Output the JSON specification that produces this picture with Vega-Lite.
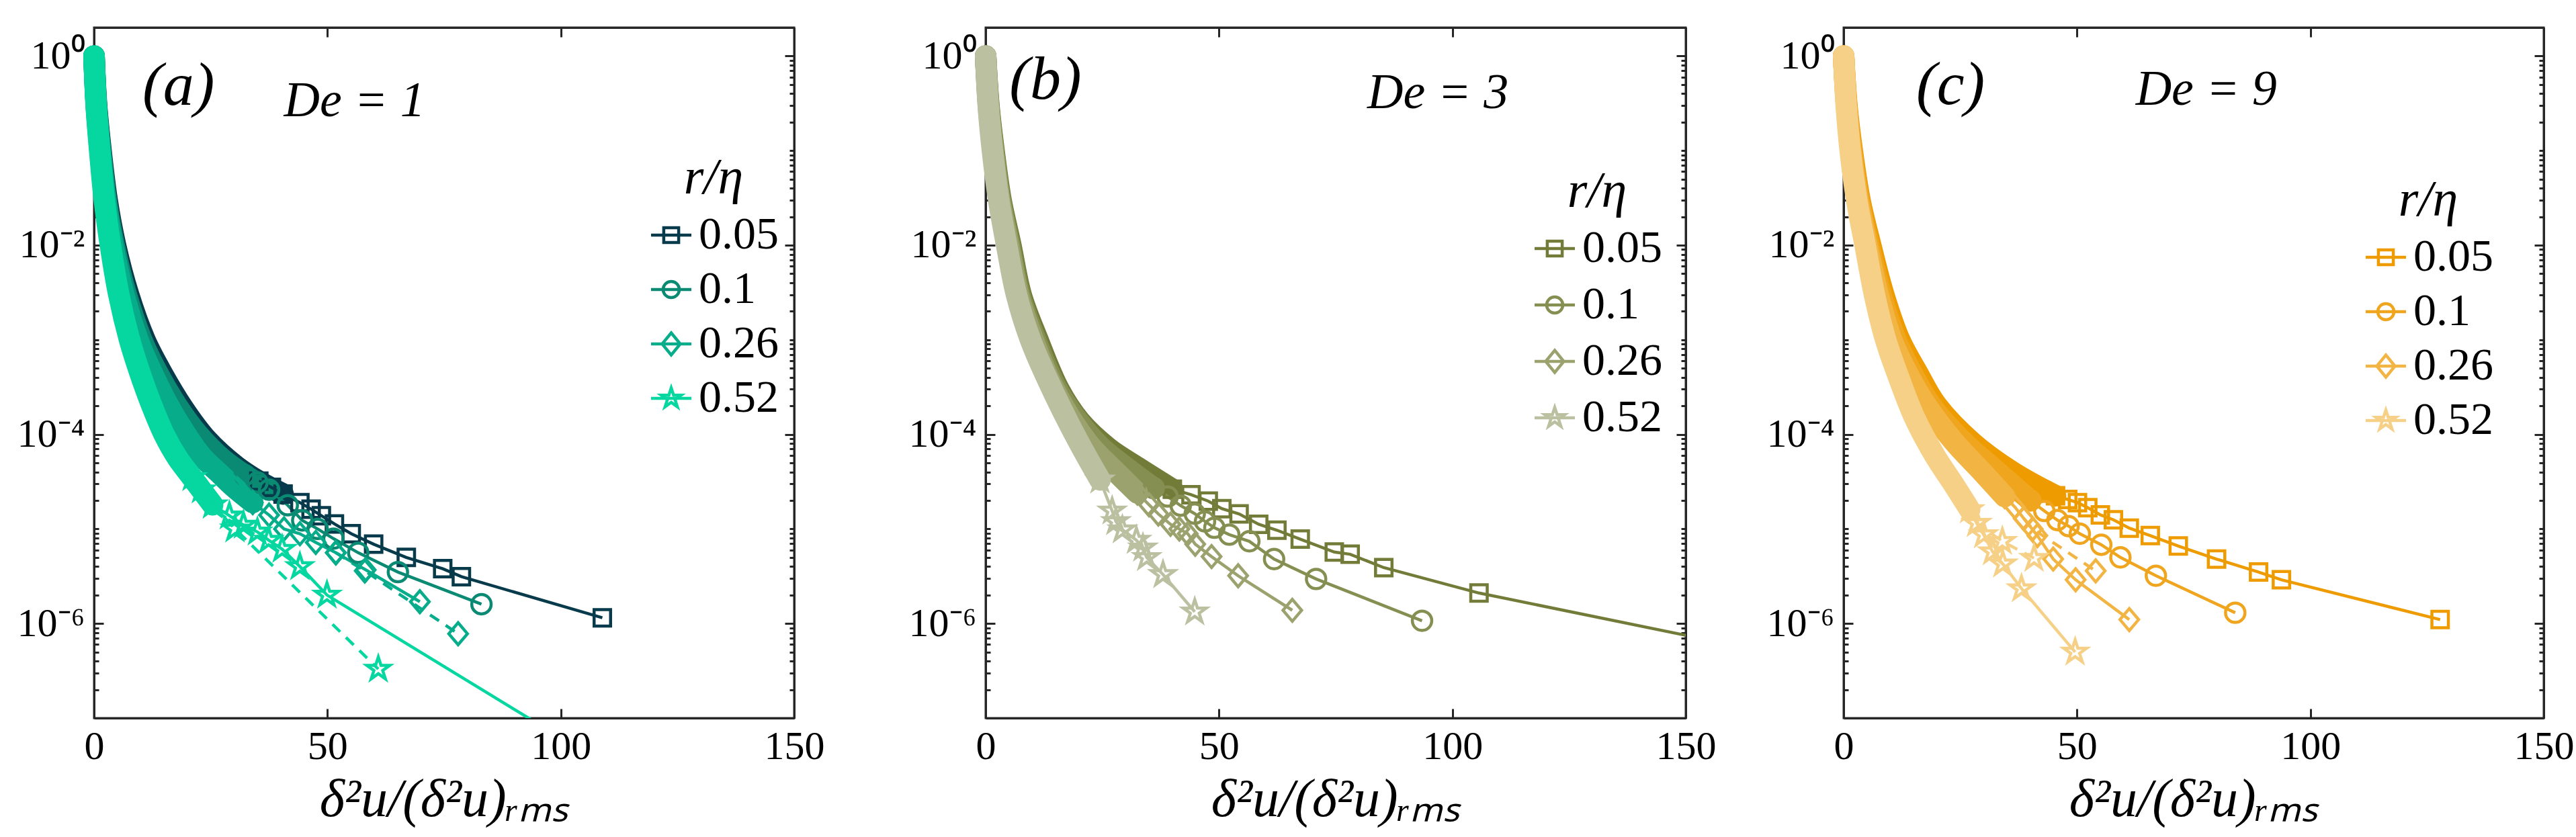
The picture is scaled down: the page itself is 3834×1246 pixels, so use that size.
{
  "$schema": "https://vega.github.io/schema/vega-lite/v6.json",
  "background": "white",
  "padding": {"left": 23, "top": 38, "right": 5, "bottom": 0},
  "bounds": "flush",
  "spacing": 285,
  "datasets": {
    "a": [
      {"r":"0.05","s":"s","k":"c","x":0,"y":1},{"r":"0.05","s":"s","k":"c","x":0.55,"y":0.3},{"r":"0.05","s":"s","k":"c","x":1.5,"y":0.1},{"r":"0.05","s":"s","k":"c","x":2.8,"y":0.03},{"r":"0.05","s":"s","k":"c","x":4.6,"y":0.01},{"r":"0.05","s":"s","k":"c","x":7.4,"y":3e-3},{"r":"0.05","s":"s","k":"c","x":10.9,"y":1e-3},{"r":"0.05","s":"s","k":"c","x":14,"y":5e-4},{"r":"0.05","s":"s","k":"c","x":19.1,"y":1.9e-4},{"r":"0.05","s":"s","k":"c","x":24.3,"y":8.7e-5},{"r":"0.05","s":"s","k":"c","x":30.5,"y":4.6e-5},{"r":"0.05","s":"s","k":"c","x":35.3,"y":3.2e-5},{"r":"0.05","s":"s","k":"c","x":40.5,"y":2.34e-5},
      {"r":"0.05","s":"s","k":"t","x":35.3,"y":3.2e-5},{"r":"0.05","s":"s","k":"t","x":38,"y":2.75e-5},{"r":"0.05","s":"s","k":"t","x":40.5,"y":2.34e-5},{"r":"0.05","s":"s","k":"t","x":44.1,"y":1.9e-5},{"r":"0.05","s":"s","k":"t","x":46.5,"y":1.62e-5},{"r":"0.05","s":"s","k":"t","x":48.7,"y":1.38e-5},{"r":"0.05","s":"s","k":"t","x":51.5,"y":1.13e-5},{"r":"0.05","s":"s","k":"t","x":55.1,"y":8.9e-6},{"r":"0.05","s":"s","k":"t","x":59.9,"y":6.9e-6},{"r":"0.05","s":"s","k":"t","x":66.9,"y":5e-6},{"r":"0.05","s":"s","k":"t","x":74.7,"y":3.8e-6},{"r":"0.05","s":"s","k":"t","x":78.7,"y":3.13e-6},{"r":"0.05","s":"s","k":"t","x":108.9,"y":1.15e-6},
      {"r":"0.1","s":"s","k":"c","x":0,"y":1},{"r":"0.1","s":"s","k":"c","x":0.5,"y":0.3},{"r":"0.1","s":"s","k":"c","x":1.4,"y":0.1},{"r":"0.1","s":"s","k":"c","x":2.6,"y":0.03},{"r":"0.1","s":"s","k":"c","x":4.3,"y":0.01},{"r":"0.1","s":"s","k":"c","x":6.9,"y":3e-3},{"r":"0.1","s":"s","k":"c","x":10.2,"y":1e-3},{"r":"0.1","s":"s","k":"c","x":13.1,"y":5e-4},{"r":"0.1","s":"s","k":"c","x":17.8,"y":2e-4},{"r":"0.1","s":"s","k":"c","x":22.3,"y":1e-4},{"r":"0.1","s":"s","k":"c","x":27.5,"y":5.5e-5},{"r":"0.1","s":"s","k":"c","x":32.3,"y":3.7e-5},{"r":"0.1","s":"s","k":"c","x":37.5,"y":2.6e-5},
      {"r":"0.1","s":"s","k":"t","x":32.3,"y":3.7e-5},{"r":"0.1","s":"s","k":"t","x":35,"y":3.1e-5},{"r":"0.1","s":"s","k":"t","x":37.5,"y":2.6e-5},{"r":"0.1","s":"s","k":"t","x":41.5,"y":1.78e-5},{"r":"0.1","s":"s","k":"t","x":44.6,"y":1.23e-5},{"r":"0.1","s":"s","k":"t","x":47.9,"y":1e-5},{"r":"0.1","s":"s","k":"t","x":51.3,"y":7.9e-6},{"r":"0.1","s":"s","k":"t","x":56.6,"y":5.6e-6},{"r":"0.1","s":"s","k":"t","x":65.1,"y":3.5e-6},{"r":"0.1","s":"s","k":"t","x":83,"y":1.6e-6},
      {"r":"0.26","s":"s","k":"c","x":0,"y":1},{"r":"0.26","s":"s","k":"c","x":0.48,"y":0.3},{"r":"0.26","s":"s","k":"c","x":1.3,"y":0.1},{"r":"0.26","s":"s","k":"c","x":2.45,"y":0.03},{"r":"0.26","s":"s","k":"c","x":4,"y":0.01},{"r":"0.26","s":"s","k":"c","x":6.4,"y":3e-3},{"r":"0.26","s":"s","k":"c","x":9.4,"y":1e-3},{"r":"0.26","s":"s","k":"c","x":12,"y":5e-4},{"r":"0.26","s":"s","k":"c","x":16,"y":2e-4},{"r":"0.26","s":"s","k":"c","x":19.7,"y":1e-4},{"r":"0.26","s":"s","k":"c","x":23,"y":5.9e-5},{"r":"0.26","s":"s","k":"c","x":27,"y":3.8e-5},{"r":"0.26","s":"s","k":"c","x":30,"y":2.75e-5},{"r":"0.26","s":"s","k":"c","x":34,"y":1.9e-5},
      {"r":"0.26","s":"s","k":"t","x":30,"y":2.75e-5},{"r":"0.26","s":"s","k":"t","x":32,"y":2.3e-5},{"r":"0.26","s":"s","k":"t","x":34,"y":1.9e-5},{"r":"0.26","s":"s","k":"t","x":37.5,"y":1.4e-5},{"r":"0.26","s":"s","k":"t","x":40.7,"y":1e-5},{"r":"0.26","s":"s","k":"t","x":44.1,"y":8.9e-6},{"r":"0.26","s":"s","k":"t","x":47.5,"y":7.2e-6},{"r":"0.26","s":"s","k":"t","x":51.8,"y":5.6e-6},{"r":"0.26","s":"s","k":"t","x":58.2,"y":3.7e-6},{"r":"0.26","s":"s","k":"t","x":69.8,"y":1.7e-6},
      {"r":"0.26","s":"d","k":"t","x":51.8,"y":5.6e-6},{"r":"0.26","s":"d","k":"t","x":58,"y":3.6e-6},{"r":"0.26","s":"d","k":"t","x":78,"y":7.8e-7},
      {"r":"0.52","s":"s","k":"c","x":0,"y":1},{"r":"0.52","s":"s","k":"c","x":0.45,"y":0.3},{"r":"0.52","s":"s","k":"c","x":1.2,"y":0.1},{"r":"0.52","s":"s","k":"c","x":2.2,"y":0.03},{"r":"0.52","s":"s","k":"c","x":3.5,"y":0.01},{"r":"0.52","s":"s","k":"c","x":5.3,"y":3e-3},{"r":"0.52","s":"s","k":"c","x":7.6,"y":1e-3},{"r":"0.52","s":"s","k":"c","x":9.8,"y":4.5e-4},{"r":"0.52","s":"s","k":"c","x":12.4,"y":2e-4},{"r":"0.52","s":"s","k":"c","x":15,"y":1e-4},{"r":"0.52","s":"s","k":"c","x":18,"y":5.5e-5},{"r":"0.52","s":"s","k":"c","x":21,"y":3.5e-5},{"r":"0.52","s":"s","k":"c","x":25.4,"y":1.8e-5},
      {"r":"0.52","s":"s","k":"t","x":21,"y":3.5e-5},{"r":"0.52","s":"s","k":"t","x":23,"y":2.6e-5},{"r":"0.52","s":"s","k":"t","x":25.4,"y":1.8e-5},{"r":"0.52","s":"s","k":"t","x":29,"y":1.38e-5},{"r":"0.52","s":"s","k":"t","x":32,"y":1.1e-5},{"r":"0.52","s":"s","k":"t","x":35,"y":9.3e-6},{"r":"0.52","s":"s","k":"t","x":37.4,"y":7.6e-6},{"r":"0.52","s":"s","k":"t","x":40.3,"y":6.1e-6},{"r":"0.52","s":"s","k":"t","x":44.1,"y":4e-6},{"r":"0.52","s":"s","k":"t","x":49.9,"y":2e-6},{"r":"0.52","s":"s","k":"t","x":110,"y":3.1e-8},
      {"r":"0.52","s":"d","k":"t","x":25.4,"y":1.8e-5},{"r":"0.52","s":"d","k":"t","x":30.2,"y":1e-5},{"r":"0.52","s":"d","k":"t","x":60.9,"y":3.3e-7}
    ],
    "b": [
      {"r":"0.05","s":"s","k":"c","x":0,"y":1},{"r":"0.05","s":"s","k":"c","x":0.7,"y":0.3},{"r":"0.05","s":"s","k":"c","x":1.8,"y":0.1},{"r":"0.05","s":"s","k":"c","x":3.3,"y":0.03},{"r":"0.05","s":"s","k":"c","x":5.4,"y":0.01},{"r":"0.05","s":"s","k":"c","x":7.6,"y":3e-3},{"r":"0.05","s":"s","k":"c","x":11.2,"y":1e-3},{"r":"0.05","s":"s","k":"c","x":15.7,"y":3e-4},{"r":"0.05","s":"s","k":"c","x":20.2,"y":1.38e-4},{"r":"0.05","s":"s","k":"c","x":26.4,"y":7.1e-5},{"r":"0.05","s":"s","k":"c","x":32.5,"y":4.5e-5},{"r":"0.05","s":"s","k":"c","x":40,"y":2.63e-5},
      {"r":"0.05","s":"s","k":"t","x":40,"y":2.63e-5},{"r":"0.05","s":"s","k":"t","x":44,"y":2.3e-5},{"r":"0.05","s":"s","k":"t","x":47.7,"y":1.97e-5},{"r":"0.05","s":"s","k":"t","x":50.6,"y":1.64e-5},{"r":"0.05","s":"s","k":"t","x":54.3,"y":1.44e-5},{"r":"0.05","s":"s","k":"t","x":58.5,"y":1.12e-5},{"r":"0.05","s":"s","k":"t","x":62.4,"y":9.7e-6},{"r":"0.05","s":"s","k":"t","x":67.4,"y":7.8e-6},{"r":"0.05","s":"s","k":"t","x":74.7,"y":5.7e-6},{"r":"0.05","s":"s","k":"t","x":78.1,"y":5.4e-6},{"r":"0.05","s":"s","k":"t","x":85.3,"y":3.9e-6},{"r":"0.05","s":"s","k":"t","x":105.7,"y":2.1e-6},{"r":"0.05","s":"s","k":"t","x":165,"y":5.3e-7},
      {"r":"0.1","s":"s","k":"c","x":0,"y":1},{"r":"0.1","s":"s","k":"c","x":0.65,"y":0.3},{"r":"0.1","s":"s","k":"c","x":1.7,"y":0.1},{"r":"0.1","s":"s","k":"c","x":3.15,"y":0.03},{"r":"0.1","s":"s","k":"c","x":5.15,"y":0.01},{"r":"0.1","s":"s","k":"c","x":7.3,"y":3e-3},{"r":"0.1","s":"s","k":"c","x":10.7,"y":1e-3},{"r":"0.1","s":"s","k":"c","x":15,"y":3.2e-4},{"r":"0.1","s":"s","k":"c","x":19.3,"y":1.5e-4},{"r":"0.1","s":"s","k":"c","x":24.5,"y":7.5e-5},{"r":"0.1","s":"s","k":"c","x":30,"y":4.5e-5},{"r":"0.1","s":"s","k":"c","x":36,"y":2.7e-5},
      {"r":"0.1","s":"s","k":"t","x":36,"y":2.7e-5},{"r":"0.1","s":"s","k":"t","x":39,"y":2.2e-5},{"r":"0.1","s":"s","k":"t","x":41.8,"y":1.76e-5},{"r":"0.1","s":"s","k":"t","x":44.8,"y":1.45e-5},{"r":"0.1","s":"s","k":"t","x":47,"y":1.2e-5},{"r":"0.1","s":"s","k":"t","x":49,"y":1.03e-5},{"r":"0.1","s":"s","k":"t","x":52.2,"y":8.7e-6},{"r":"0.1","s":"s","k":"t","x":56.5,"y":7.4e-6},{"r":"0.1","s":"s","k":"t","x":61.8,"y":4.8e-6},{"r":"0.1","s":"s","k":"t","x":70.8,"y":2.96e-6},{"r":"0.1","s":"s","k":"t","x":93.5,"y":1.07e-6},
      {"r":"0.26","s":"s","k":"c","x":0,"y":1},{"r":"0.26","s":"s","k":"c","x":0.6,"y":0.3},{"r":"0.26","s":"s","k":"c","x":1.6,"y":0.1},{"r":"0.26","s":"s","k":"c","x":3,"y":0.03},{"r":"0.26","s":"s","k":"c","x":4.9,"y":0.01},{"r":"0.26","s":"s","k":"c","x":7,"y":3e-3},{"r":"0.26","s":"s","k":"c","x":10.2,"y":1e-3},{"r":"0.26","s":"s","k":"c","x":14,"y":3.5e-4},{"r":"0.26","s":"s","k":"c","x":17.8,"y":1.6e-4},{"r":"0.26","s":"s","k":"c","x":22.5,"y":7.5e-5},{"r":"0.26","s":"s","k":"c","x":27.5,"y":4.2e-5},{"r":"0.26","s":"s","k":"c","x":32.5,"y":2.4e-5},
      {"r":"0.26","s":"s","k":"t","x":32.5,"y":2.4e-5},{"r":"0.26","s":"s","k":"t","x":35,"y":1.8e-5},{"r":"0.26","s":"s","k":"t","x":37,"y":1.44e-5},{"r":"0.26","s":"s","k":"t","x":39.6,"y":1.12e-5},{"r":"0.26","s":"s","k":"t","x":41.5,"y":1e-5},{"r":"0.26","s":"s","k":"t","x":43.3,"y":8.9e-6},{"r":"0.26","s":"s","k":"t","x":44.9,"y":6.9e-6},{"r":"0.26","s":"s","k":"t","x":48.4,"y":5.1e-6},{"r":"0.26","s":"s","k":"t","x":54.1,"y":3.2e-6},{"r":"0.26","s":"s","k":"t","x":65.7,"y":1.38e-6},
      {"r":"0.52","s":"s","k":"c","x":0,"y":1},{"r":"0.52","s":"s","k":"c","x":0.55,"y":0.3},{"r":"0.52","s":"s","k":"c","x":1.45,"y":0.1},{"r":"0.52","s":"s","k":"c","x":2.8,"y":0.03},{"r":"0.52","s":"s","k":"c","x":4.5,"y":0.01},{"r":"0.52","s":"s","k":"c","x":6.6,"y":3e-3},{"r":"0.52","s":"s","k":"c","x":9.6,"y":1e-3},{"r":"0.52","s":"s","k":"c","x":13.6,"y":3.5e-4},{"r":"0.52","s":"s","k":"c","x":18,"y":1.26e-4},{"r":"0.52","s":"s","k":"c","x":21.5,"y":6e-5},{"r":"0.52","s":"s","k":"c","x":24.5,"y":3.3e-5},
      {"r":"0.52","s":"s","k":"t","x":24.5,"y":3.3e-5},{"r":"0.52","s":"s","k":"t","x":27.1,"y":1.55e-5},{"r":"0.52","s":"s","k":"t","x":27.9,"y":1.2e-5},{"r":"0.52","s":"s","k":"t","x":29.3,"y":9.8e-6},{"r":"0.52","s":"s","k":"t","x":32.3,"y":7.6e-6},{"r":"0.52","s":"s","k":"t","x":33.7,"y":6.3e-6},{"r":"0.52","s":"s","k":"t","x":34.5,"y":5e-6},{"r":"0.52","s":"s","k":"t","x":38,"y":3.3e-6},{"r":"0.52","s":"s","k":"t","x":44.8,"y":1.33e-6}
    ],
    "c": [
      {"r":"0.05","s":"s","k":"c","x":0,"y":1},{"r":"0.05","s":"s","k":"c","x":0.7,"y":0.3},{"r":"0.05","s":"s","k":"c","x":1.85,"y":0.1},{"r":"0.05","s":"s","k":"c","x":3.5,"y":0.03},{"r":"0.05","s":"s","k":"c","x":5.8,"y":0.01},{"r":"0.05","s":"s","k":"c","x":8.6,"y":3e-3},{"r":"0.05","s":"s","k":"c","x":12,"y":1e-3},{"r":"0.05","s":"s","k":"c","x":15.8,"y":4.5e-4},{"r":"0.05","s":"s","k":"c","x":19.9,"y":2.04e-4},{"r":"0.05","s":"s","k":"c","x":27.7,"y":8.1e-5},{"r":"0.05","s":"s","k":"c","x":36.2,"y":4e-5},{"r":"0.05","s":"s","k":"c","x":45.4,"y":2.24e-5},
      {"r":"0.05","s":"s","k":"t","x":45.4,"y":2.24e-5},{"r":"0.05","s":"s","k":"t","x":48,"y":2.05e-5},{"r":"0.05","s":"s","k":"t","x":50.1,"y":1.9e-5},{"r":"0.05","s":"s","k":"t","x":52.3,"y":1.68e-5},{"r":"0.05","s":"s","k":"t","x":55,"y":1.41e-5},{"r":"0.05","s":"s","k":"t","x":57.8,"y":1.25e-5},{"r":"0.05","s":"s","k":"t","x":61.2,"y":1.02e-5},{"r":"0.05","s":"s","k":"t","x":65.7,"y":8.5e-6},{"r":"0.05","s":"s","k":"t","x":71.7,"y":6.6e-6},{"r":"0.05","s":"s","k":"t","x":79.9,"y":4.8e-6},{"r":"0.05","s":"s","k":"t","x":88.9,"y":3.5e-6},{"r":"0.05","s":"s","k":"t","x":93.8,"y":2.9e-6},{"r":"0.05","s":"s","k":"t","x":127.8,"y":1.1e-6},
      {"r":"0.1","s":"s","k":"c","x":0,"y":1},{"r":"0.1","s":"s","k":"c","x":0.65,"y":0.3},{"r":"0.1","s":"s","k":"c","x":1.7,"y":0.1},{"r":"0.1","s":"s","k":"c","x":3.3,"y":0.03},{"r":"0.1","s":"s","k":"c","x":5.4,"y":0.01},{"r":"0.1","s":"s","k":"c","x":8,"y":3e-3},{"r":"0.1","s":"s","k":"c","x":11.2,"y":1e-3},{"r":"0.1","s":"s","k":"c","x":14.8,"y":4.3e-4},{"r":"0.1","s":"s","k":"c","x":18.8,"y":2e-4},{"r":"0.1","s":"s","k":"c","x":25.5,"y":8.5e-5},{"r":"0.1","s":"s","k":"c","x":32.5,"y":4.2e-5},{"r":"0.1","s":"s","k":"c","x":40,"y":2e-5},
      {"r":"0.1","s":"s","k":"t","x":40,"y":2e-5},{"r":"0.1","s":"s","k":"t","x":43,"y":1.55e-5},{"r":"0.1","s":"s","k":"t","x":45.8,"y":1.24e-5},{"r":"0.1","s":"s","k":"t","x":48.2,"y":1.07e-5},{"r":"0.1","s":"s","k":"t","x":50.6,"y":8.9e-6},{"r":"0.1","s":"s","k":"t","x":55.2,"y":6.8e-6},{"r":"0.1","s":"s","k":"t","x":59.3,"y":5e-6},{"r":"0.1","s":"s","k":"t","x":66.9,"y":3.2e-6},{"r":"0.1","s":"s","k":"t","x":83.9,"y":1.3e-6},
      {"r":"0.26","s":"s","k":"c","x":0,"y":1},{"r":"0.26","s":"s","k":"c","x":0.6,"y":0.3},{"r":"0.26","s":"s","k":"c","x":1.55,"y":0.1},{"r":"0.26","s":"s","k":"c","x":3.05,"y":0.03},{"r":"0.26","s":"s","k":"c","x":5,"y":0.01},{"r":"0.26","s":"s","k":"c","x":7.4,"y":3e-3},{"r":"0.26","s":"s","k":"c","x":10.3,"y":1e-3},{"r":"0.26","s":"s","k":"c","x":13.6,"y":4.5e-4},{"r":"0.26","s":"s","k":"c","x":17.5,"y":2.1e-4},{"r":"0.26","s":"s","k":"c","x":23.5,"y":8.5e-5},{"r":"0.26","s":"s","k":"c","x":29.5,"y":4.1e-5},{"r":"0.26","s":"s","k":"c","x":34.5,"y":2.2e-5},
      {"r":"0.26","s":"s","k":"t","x":34.5,"y":2.2e-5},{"r":"0.26","s":"s","k":"t","x":36.7,"y":1.7e-5},{"r":"0.26","s":"s","k":"t","x":38.6,"y":1.29e-5},{"r":"0.26","s":"s","k":"t","x":41.5,"y":8.5e-6},{"r":"0.26","s":"s","k":"t","x":44.9,"y":4.8e-6},{"r":"0.26","s":"s","k":"t","x":49.7,"y":2.9e-6},{"r":"0.26","s":"s","k":"t","x":61.2,"y":1.1e-6},
      {"r":"0.26","s":"d","k":"t","x":38.6,"y":1.29e-5},{"r":"0.26","s":"d","k":"t","x":40.5,"y":1e-5},{"r":"0.26","s":"d","k":"t","x":54,"y":3.6e-6},
      {"r":"0.52","s":"s","k":"c","x":0,"y":1},{"r":"0.52","s":"s","k":"c","x":0.55,"y":0.3},{"r":"0.52","s":"s","k":"c","x":1.4,"y":0.1},{"r":"0.52","s":"s","k":"c","x":2.8,"y":0.03},{"r":"0.52","s":"s","k":"c","x":4.6,"y":0.01},{"r":"0.52","s":"s","k":"c","x":6.6,"y":3e-3},{"r":"0.52","s":"s","k":"c","x":9,"y":1e-3},{"r":"0.52","s":"s","k":"c","x":11.8,"y":4e-4},{"r":"0.52","s":"s","k":"c","x":15.2,"y":1.5e-4},{"r":"0.52","s":"s","k":"c","x":19.5,"y":6e-5},{"r":"0.52","s":"s","k":"c","x":23.5,"y":3e-5},{"r":"0.52","s":"s","k":"c","x":27,"y":1.6e-5},
      {"r":"0.52","s":"s","k":"t","x":27,"y":1.6e-5},{"r":"0.52","s":"s","k":"t","x":28.5,"y":1.15e-5},{"r":"0.52","s":"s","k":"t","x":30,"y":8.7e-6},{"r":"0.52","s":"s","k":"t","x":31.9,"y":5.75e-6},{"r":"0.52","s":"s","k":"t","x":34.1,"y":4.27e-6},{"r":"0.52","s":"s","k":"t","x":38.1,"y":2.34e-6},{"r":"0.52","s":"s","k":"t","x":49.6,"y":5e-7},
      {"r":"0.52","s":"d","k":"t","x":28.5,"y":1.15e-5},{"r":"0.52","s":"d","k":"t","x":34,"y":7.4e-6},{"r":"0.52","s":"d","k":"t","x":40.8,"y":4.9e-6}
    ]
  },
  "hconcat": [
    {
      "width": 1042, "height": 1028,
      "resolve": {"scale": {"x": "independent", "y": "independent", "color": "independent", "shape": "independent"}},
      "layer": [
        {
          "data": {"values": [{"r":"0.05","x":0,"y":1},{"r":"0.1","x":0,"y":1},{"r":"0.26","x":0,"y":1},{"r":"0.52","x":0,"y":1}]},
          "mark": {"type": "point", "filled": false, "opacity": 1, "strokeWidth": 4.5},
          "encoding": {
            "x": {"field": "x", "type": "quantitative", "scale": {"domain": [0, 150], "nice": false, "zero": false},
                  "axis": {"orient": "top", "values": [0, 50, 100, 150], "labels": false, "title": null, "tickSize": -14}},
            "y": {"field": "y", "type": "quantitative", "scale": {"type": "log", "domain": [1e-7, 2], "nice": false},
                  "axis": {"orient": "right", "labels": false, "title": null,
                           "values": [2e-7,3e-7,4e-7,5e-7,6e-7,7e-7,8e-7,9e-7,1e-6,2e-6,3e-6,4e-6,5e-6,6e-6,7e-6,8e-6,9e-6,1e-5,2e-5,3e-5,4e-5,5e-5,6e-5,7e-5,8e-5,9e-5,1e-4,2e-4,3e-4,4e-4,5e-4,6e-4,7e-4,8e-4,9e-4,0.001,0.002,0.003,0.004,0.005,0.006,0.007,0.008,0.009,0.01,0.02,0.03,0.04,0.05,0.06,0.07,0.08,0.09,0.1,0.2,0.3,0.4,0.5,0.6,0.7,0.8,0.9,1],
                           "tickSize": {"condition": {"test": "indexof([1,0.01,0.0001,0.000001], datum.value) >= 0", "value": -14}, "value": -7}}},
            "color": {"field": "r", "type": "nominal",
                      "scale": {"domain": ["0.05", "0.1", "0.26", "0.52"], "range": ["#073B4C", "#0B8A73", "#07AD8B", "#06D6A0"]},
                      "legend": {"title": "r/η", "orient": "none", "legendX": 825, "legendY": 187, "titleAnchor": "middle", "titlePadding": 12, "labelOffset": 7, "symbolSize": 3600, "symbolStrokeWidth": 4.5, "rowPadding": 13, "padding": 0}},
            "shape": {"field": "r", "type": "nominal",
                      "scale": {"domain": ["0.05", "0.1", "0.26", "0.52"],
                                "range": ["M-1,0H1M-0.37,-0.37H0.37V0.37H-0.37Z", "M-1,0H1M0.4,0A0.4,0.4,0,1,1,-0.4,0A0.4,0.4,0,1,1,0.4,0Z", "M-1,0H1M0,-0.55L0.45,0L0,0.55L-0.45,0Z", "M-1,0H1M0,-0.52L0.117,-0.161L0.495,-0.161L0.19,0.062L0.306,0.421L0,0.199L-0.306,0.421L-0.19,0.062L-0.495,-0.161L-0.117,-0.161Z"]},
                      "legend": {"title": "r/η", "orient": "none", "legendX": 825, "legendY": 187, "titleAnchor": "middle", "titlePadding": 12, "labelOffset": 7, "symbolSize": 3600, "symbolStrokeWidth": 4.5, "rowPadding": 13, "padding": 0}}
          }
        },
        {
          "data": {"name": "a"},
          "encoding": {
            "x": {"field": "x", "type": "quantitative", "scale": {"domain": [0, 150], "nice": false, "zero": false},
                  "axis": {"orient": "bottom", "values": [0, 50, 100, 150], "title": "δ²u/(δ²u)ᵣₘₛ", "tickSize": -14, "labelPadding": 27, "titlePadding": 10}},
            "y": {"field": "y", "type": "quantitative", "scale": {"type": "log", "domain": [1e-7, 2], "nice": false},
                  "axis": {"orient": "left", "title": null, "labelPadding": 28,
                           "values": [2e-7,3e-7,4e-7,5e-7,6e-7,7e-7,8e-7,9e-7,1e-6,2e-6,3e-6,4e-6,5e-6,6e-6,7e-6,8e-6,9e-6,1e-5,2e-5,3e-5,4e-5,5e-5,6e-5,7e-5,8e-5,9e-5,1e-4,2e-4,3e-4,4e-4,5e-4,6e-4,7e-4,8e-4,9e-4,0.001,0.002,0.003,0.004,0.005,0.006,0.007,0.008,0.009,0.01,0.02,0.03,0.04,0.05,0.06,0.07,0.08,0.09,0.1,0.2,0.3,0.4,0.5,0.6,0.7,0.8,0.9,1],
                           "labelExpr": "datum.value == 1 ? '10⁰' : datum.value == 0.01 ? '10⁻²' : datum.value == 0.0001 ? '10⁻⁴' : datum.value == 0.000001 ? '10⁻⁶' : ''",
                           "tickSize": {"condition": {"test": "indexof([1,0.01,0.0001,0.000001], datum.value) >= 0", "value": -14}, "value": -7}}},
            "color": {"field": "r", "type": "nominal",
                      "scale": {"domain": ["0.05", "0.1", "0.26", "0.52"], "range": ["#073B4C", "#0B8A73", "#07AD8B", "#06D6A0"]}, "legend": null}
          },
          "layer": [
            {"transform": [{"filter": "datum.k == 'c'"}], "mark": {"type": "line", "strokeWidth": 32, "strokeCap": "round", "strokeJoin": "round", "interpolate": "catmull-rom"}},
            {"transform": [{"filter": "datum.k == 't' && datum.s == 's'"}], "mark": {"type": "line", "strokeWidth": 4.5, "clip": true}},
            {"transform": [{"filter": "datum.s == 'd'"}], "mark": {"type": "line", "strokeWidth": 4.5, "strokeDash": [16, 12], "clip": true}},
            {"transform": [{"filter": "datum.k == 't'"}], "mark": {"type": "point", "filled": false, "opacity": 1, "strokeWidth": 4.5, "clip": true},
             "encoding": {
               "shape": {"field": "r", "type": "nominal", "legend": null, "scale": {"domain": ["0.05", "0.1", "0.26", "0.52"], "range": ["square", "circle", "M0,-1L0.85,0L0,1L-0.85,0Z", "M0,-1L0.2245,-0.309L0.951,-0.309L0.363,0.118L0.588,0.809L0,0.382L-0.588,0.809L-0.363,0.118L-0.951,-0.309L-0.2245,-0.309Z"]}},
               "size": {"field": "r", "type": "nominal", "legend": null, "scale": {"domain": ["0.05", "0.1", "0.26", "0.52"], "range": [600, 1300]}}}},
            {"data": {"values": [{"x": 18.1, "y": 0.48, "t": "(a)"}]}, "mark": {"type": "text", "fontSize": 92, "fontStyle": "italic"}, "encoding": {"text": {"field": "t"}, "color": {"value": "black"}}},
            {"data": {"values": [{"x": 55.8, "y": 0.33, "t": "De = 1"}]}, "mark": {"type": "text", "fontSize": 74, "fontStyle": "italic"}, "encoding": {"text": {"field": "t"}, "color": {"value": "black"}}}
          ]
        }
      ]
    },
    {
      "hconcat": [
        {
          "width": 1042, "height": 1028,
          "resolve": {"scale": {"x": "independent", "y": "independent", "color": "independent", "shape": "independent"}},
          "layer": [
            {
              "data": {"values": [{"r":"0.05","x":0,"y":1},{"r":"0.1","x":0,"y":1},{"r":"0.26","x":0,"y":1},{"r":"0.52","x":0,"y":1}]},
              "mark": {"type": "point", "filled": false, "opacity": 1, "strokeWidth": 4.5},
              "encoding": {
                "x": {"field": "x", "type": "quantitative", "scale": {"domain": [0, 150], "nice": false, "zero": false},
                      "axis": {"orient": "top", "values": [0, 50, 100, 150], "labels": false, "title": null, "tickSize": -14}},
                "y": {"field": "y", "type": "quantitative", "scale": {"type": "log", "domain": [1e-7, 2], "nice": false},
                      "axis": {"orient": "right", "labels": false, "title": null,
                               "values": [2e-7,3e-7,4e-7,5e-7,6e-7,7e-7,8e-7,9e-7,1e-6,2e-6,3e-6,4e-6,5e-6,6e-6,7e-6,8e-6,9e-6,1e-5,2e-5,3e-5,4e-5,5e-5,6e-5,7e-5,8e-5,9e-5,1e-4,2e-4,3e-4,4e-4,5e-4,6e-4,7e-4,8e-4,9e-4,0.001,0.002,0.003,0.004,0.005,0.006,0.007,0.008,0.009,0.01,0.02,0.03,0.04,0.05,0.06,0.07,0.08,0.09,0.1,0.2,0.3,0.4,0.5,0.6,0.7,0.8,0.9,1],
                               "tickSize": {"condition": {"test": "indexof([1,0.01,0.0001,0.000001], datum.value) >= 0", "value": -14}, "value": -7}}},
                "color": {"field": "r", "type": "nominal",
                          "scale": {"domain": ["0.05", "0.1", "0.26", "0.52"], "range": ["#737B38", "#868F52", "#9CA26E", "#BAC0A0"]},
                          "legend": {"title": "r/η", "orient": "none", "legendX": 813, "legendY": 207, "titleAnchor": "middle", "titlePadding": 12, "labelOffset": 7, "symbolSize": 3600, "symbolStrokeWidth": 4.5, "rowPadding": 16, "padding": 0}},
                "shape": {"field": "r", "type": "nominal",
                          "scale": {"domain": ["0.05", "0.1", "0.26", "0.52"],
                                    "range": ["M-1,0H1M-0.37,-0.37H0.37V0.37H-0.37Z", "M-1,0H1M0.4,0A0.4,0.4,0,1,1,-0.4,0A0.4,0.4,0,1,1,0.4,0Z", "M-1,0H1M0,-0.55L0.45,0L0,0.55L-0.45,0Z", "M-1,0H1M0,-0.52L0.117,-0.161L0.495,-0.161L0.19,0.062L0.306,0.421L0,0.199L-0.306,0.421L-0.19,0.062L-0.495,-0.161L-0.117,-0.161Z"]},
                          "legend": {"title": "r/η", "orient": "none", "legendX": 813, "legendY": 207, "titleAnchor": "middle", "titlePadding": 12, "labelOffset": 7, "symbolSize": 3600, "symbolStrokeWidth": 4.5, "rowPadding": 16, "padding": 0}}
              }
            },
            {
              "data": {"name": "b"},
              "encoding": {
                "x": {"field": "x", "type": "quantitative", "scale": {"domain": [0, 150], "nice": false, "zero": false},
                      "axis": {"orient": "bottom", "values": [0, 50, 100, 150], "title": "δ²u/(δ²u)ᵣₘₛ", "tickSize": -14, "labelPadding": 27, "titlePadding": 10}},
                "y": {"field": "y", "type": "quantitative", "scale": {"type": "log", "domain": [1e-7, 2], "nice": false},
                      "axis": {"orient": "left", "title": null, "labelPadding": 28,
                               "values": [2e-7,3e-7,4e-7,5e-7,6e-7,7e-7,8e-7,9e-7,1e-6,2e-6,3e-6,4e-6,5e-6,6e-6,7e-6,8e-6,9e-6,1e-5,2e-5,3e-5,4e-5,5e-5,6e-5,7e-5,8e-5,9e-5,1e-4,2e-4,3e-4,4e-4,5e-4,6e-4,7e-4,8e-4,9e-4,0.001,0.002,0.003,0.004,0.005,0.006,0.007,0.008,0.009,0.01,0.02,0.03,0.04,0.05,0.06,0.07,0.08,0.09,0.1,0.2,0.3,0.4,0.5,0.6,0.7,0.8,0.9,1],
                               "labelExpr": "datum.value == 1 ? '10⁰' : datum.value == 0.01 ? '10⁻²' : datum.value == 0.0001 ? '10⁻⁴' : datum.value == 0.000001 ? '10⁻⁶' : ''",
                               "tickSize": {"condition": {"test": "indexof([1,0.01,0.0001,0.000001], datum.value) >= 0", "value": -14}, "value": -7}}},
                "color": {"field": "r", "type": "nominal",
                          "scale": {"domain": ["0.05", "0.1", "0.26", "0.52"], "range": ["#737B38", "#868F52", "#9CA26E", "#BAC0A0"]}, "legend": null}
              },
              "layer": [
                {"transform": [{"filter": "datum.k == 'c'"}], "mark": {"type": "line", "strokeWidth": 32, "strokeCap": "round", "strokeJoin": "round", "interpolate": "catmull-rom"}},
                {"transform": [{"filter": "datum.k == 't' && datum.s == 's'"}], "mark": {"type": "line", "strokeWidth": 4.5, "clip": true}},
                {"transform": [{"filter": "datum.k == 't'"}], "mark": {"type": "point", "filled": false, "opacity": 1, "strokeWidth": 4.5, "clip": true},
                 "encoding": {
                   "shape": {"field": "r", "type": "nominal", "legend": null, "scale": {"domain": ["0.05", "0.1", "0.26", "0.52"], "range": ["square", "circle", "M0,-1L0.85,0L0,1L-0.85,0Z", "M0,-1L0.2245,-0.309L0.951,-0.309L0.363,0.118L0.588,0.809L0,0.382L-0.588,0.809L-0.363,0.118L-0.951,-0.309L-0.2245,-0.309Z"]}},
                   "size": {"field": "r", "type": "nominal", "legend": null, "scale": {"domain": ["0.05", "0.1", "0.26", "0.52"], "range": [600, 1300]}}}},
                {"data": {"values": [{"x": 12.8, "y": 0.56, "t": "(b)"}]}, "mark": {"type": "text", "fontSize": 92, "fontStyle": "italic"}, "encoding": {"text": {"field": "t"}, "color": {"value": "black"}}},
                {"data": {"values": [{"x": 96.9, "y": 0.40, "t": "De = 3"}]}, "mark": {"type": "text", "fontSize": 74, "fontStyle": "italic"}, "encoding": {"text": {"field": "t"}, "color": {"value": "black"}}}
              ]
            }
          ]
        },
        {
          "width": 1042, "height": 1028,
          "resolve": {"scale": {"x": "independent", "y": "independent", "color": "independent", "shape": "independent"}},
          "layer": [
            {
              "data": {"values": [{"r":"0.05","x":0,"y":1},{"r":"0.1","x":0,"y":1},{"r":"0.26","x":0,"y":1},{"r":"0.52","x":0,"y":1}]},
              "mark": {"type": "point", "filled": false, "opacity": 1, "strokeWidth": 4.5},
              "encoding": {
                "x": {"field": "x", "type": "quantitative", "scale": {"domain": [0, 150], "nice": false, "zero": false},
                      "axis": {"orient": "top", "values": [0, 50, 100, 150], "labels": false, "title": null, "tickSize": -14}},
                "y": {"field": "y", "type": "quantitative", "scale": {"type": "log", "domain": [1e-7, 2], "nice": false},
                      "axis": {"orient": "right", "labels": false, "title": null,
                               "values": [2e-7,3e-7,4e-7,5e-7,6e-7,7e-7,8e-7,9e-7,1e-6,2e-6,3e-6,4e-6,5e-6,6e-6,7e-6,8e-6,9e-6,1e-5,2e-5,3e-5,4e-5,5e-5,6e-5,7e-5,8e-5,9e-5,1e-4,2e-4,3e-4,4e-4,5e-4,6e-4,7e-4,8e-4,9e-4,0.001,0.002,0.003,0.004,0.005,0.006,0.007,0.008,0.009,0.01,0.02,0.03,0.04,0.05,0.06,0.07,0.08,0.09,0.1,0.2,0.3,0.4,0.5,0.6,0.7,0.8,0.9,1],
                               "tickSize": {"condition": {"test": "indexof([1,0.01,0.0001,0.000001], datum.value) >= 0", "value": -14}, "value": -7}}},
                "color": {"field": "r", "type": "nominal",
                          "scale": {"domain": ["0.05", "0.1", "0.26", "0.52"], "range": ["#EE9B00", "#F0A51F", "#F2B443", "#F5D086"]},
                          "legend": {"title": "r/η", "orient": "none", "legendX": 773, "legendY": 220, "titleAnchor": "middle", "titlePadding": 12, "labelOffset": 7, "symbolSize": 3600, "symbolStrokeWidth": 4.5, "rowPadding": 13, "padding": 0}},
                "shape": {"field": "r", "type": "nominal",
                          "scale": {"domain": ["0.05", "0.1", "0.26", "0.52"],
                                    "range": ["M-1,0H1M-0.37,-0.37H0.37V0.37H-0.37Z", "M-1,0H1M0.4,0A0.4,0.4,0,1,1,-0.4,0A0.4,0.4,0,1,1,0.4,0Z", "M-1,0H1M0,-0.55L0.45,0L0,0.55L-0.45,0Z", "M-1,0H1M0,-0.52L0.117,-0.161L0.495,-0.161L0.19,0.062L0.306,0.421L0,0.199L-0.306,0.421L-0.19,0.062L-0.495,-0.161L-0.117,-0.161Z"]},
                          "legend": {"title": "r/η", "orient": "none", "legendX": 773, "legendY": 220, "titleAnchor": "middle", "titlePadding": 12, "labelOffset": 7, "symbolSize": 3600, "symbolStrokeWidth": 4.5, "rowPadding": 13, "padding": 0}}
              }
            },
            {
              "data": {"name": "c"},
              "encoding": {
                "x": {"field": "x", "type": "quantitative", "scale": {"domain": [0, 150], "nice": false, "zero": false},
                      "axis": {"orient": "bottom", "values": [0, 50, 100, 150], "title": "δ²u/(δ²u)ᵣₘₛ", "tickSize": -14, "labelPadding": 27, "titlePadding": 10}},
                "y": {"field": "y", "type": "quantitative", "scale": {"type": "log", "domain": [1e-7, 2], "nice": false},
                      "axis": {"orient": "left", "title": null, "labelPadding": 28,
                               "values": [2e-7,3e-7,4e-7,5e-7,6e-7,7e-7,8e-7,9e-7,1e-6,2e-6,3e-6,4e-6,5e-6,6e-6,7e-6,8e-6,9e-6,1e-5,2e-5,3e-5,4e-5,5e-5,6e-5,7e-5,8e-5,9e-5,1e-4,2e-4,3e-4,4e-4,5e-4,6e-4,7e-4,8e-4,9e-4,0.001,0.002,0.003,0.004,0.005,0.006,0.007,0.008,0.009,0.01,0.02,0.03,0.04,0.05,0.06,0.07,0.08,0.09,0.1,0.2,0.3,0.4,0.5,0.6,0.7,0.8,0.9,1],
                               "labelExpr": "datum.value == 1 ? '10⁰' : datum.value == 0.01 ? '10⁻²' : datum.value == 0.0001 ? '10⁻⁴' : datum.value == 0.000001 ? '10⁻⁶' : ''",
                               "tickSize": {"condition": {"test": "indexof([1,0.01,0.0001,0.000001], datum.value) >= 0", "value": -14}, "value": -7}}},
                "color": {"field": "r", "type": "nominal",
                          "scale": {"domain": ["0.05", "0.1", "0.26", "0.52"], "range": ["#EE9B00", "#F0A51F", "#F2B443", "#F5D086"]}, "legend": null}
              },
              "layer": [
                {"transform": [{"filter": "datum.k == 'c'"}], "mark": {"type": "line", "strokeWidth": 32, "strokeCap": "round", "strokeJoin": "round", "interpolate": "catmull-rom"}},
                {"transform": [{"filter": "datum.k == 't' && datum.s == 's'"}], "mark": {"type": "line", "strokeWidth": 4.5, "clip": true}},
                {"transform": [{"filter": "datum.s == 'd'"}], "mark": {"type": "line", "strokeWidth": 4.5, "strokeDash": [16, 12], "clip": true}},
                {"transform": [{"filter": "datum.k == 't'"}], "mark": {"type": "point", "filled": false, "opacity": 1, "strokeWidth": 4.5, "clip": true},
                 "encoding": {
                   "shape": {"field": "r", "type": "nominal", "legend": null, "scale": {"domain": ["0.05", "0.1", "0.26", "0.52"], "range": ["square", "circle", "M0,-1L0.85,0L0,1L-0.85,0Z", "M0,-1L0.2245,-0.309L0.951,-0.309L0.363,0.118L0.588,0.809L0,0.382L-0.588,0.809L-0.363,0.118L-0.951,-0.309L-0.2245,-0.309Z"]}},
                   "size": {"field": "r", "type": "nominal", "legend": null, "scale": {"domain": ["0.05", "0.1", "0.26", "0.52"], "range": [600, 1300]}}}},
                {"data": {"values": [{"x": 22.9, "y": 0.49, "t": "(c)"}]}, "mark": {"type": "text", "fontSize": 92, "fontStyle": "italic"}, "encoding": {"text": {"field": "t"}, "color": {"value": "black"}}},
                {"data": {"values": [{"x": 77.7, "y": 0.44, "t": "De = 9"}]}, "mark": {"type": "text", "fontSize": 74, "fontStyle": "italic"}, "encoding": {"text": {"field": "t"}, "color": {"value": "black"}}}
              ]
            }
          ]
        }
      ],
      "spacing": 235,
      "bounds": "flush"
    }
  ],
  "config": {
    "font": "Liberation Serif",
    "view": {"stroke": "#262626", "strokeWidth": 3},
    "axis": {
      "grid": false, "domainColor": "#262626", "domainWidth": 3, "tickColor": "#262626", "tickWidth": 3,
      "labelFont": "Liberation Serif", "labelFontSize": 60, "labelColor": "black", "labelOverlap": false, "labelFlush": false, "labelBound": false,
      "titleFont": "Liberation Serif", "titleFontSize": 80, "titleFontStyle": "italic", "titleFontWeight": "normal", "titleColor": "black"
    },
    "legend": {
      "titleFont": "Liberation Serif", "titleFontSize": 76, "titleFontStyle": "italic", "titleFontWeight": "normal", "titleColor": "black",
      "labelFont": "Liberation Serif", "labelFontSize": 68, "labelColor": "black"
    },
    "text": {"font": "Liberation Serif"}
  }
}
